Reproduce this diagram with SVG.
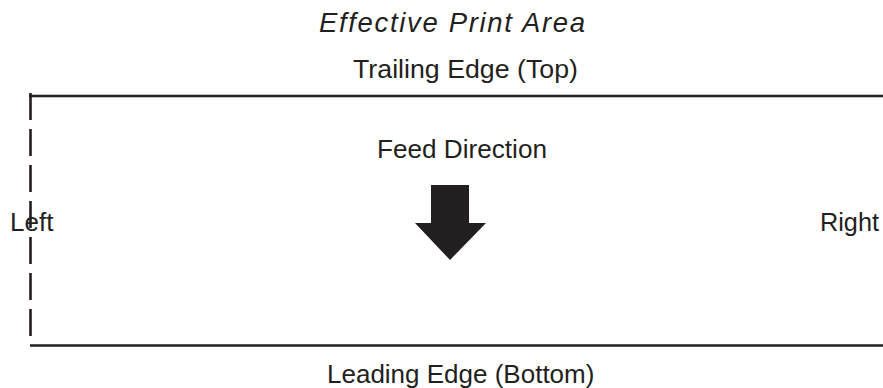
<svg xmlns="http://www.w3.org/2000/svg" width="883" height="388" viewBox="0 0 883 388">
<style>
.t{font-family:"Liberation Sans",Arial,sans-serif;font-size:26px;fill:#231f20}
.i{font-style:italic;font-size:27.5px}
.ln{stroke:#231f20;stroke-width:2.6;fill:none}
</style>
<rect width="883" height="388" fill="#ffffff"/>
<g id="title"><text class="t i" x="319" y="32" textLength="266" lengthAdjust="spacing">Effective Print Area</text></g>
<g id="edges">
<line class="ln" x1="29" y1="96" x2="883" y2="96"/>
<line class="ln" x1="30.5" y1="93" x2="30.5" y2="336" stroke-dasharray="27 9"/>
<line class="ln" x1="30" y1="345.5" x2="883" y2="345.5"/>
</g>
<g id="trailing"><text class="t" x="353" y="78" textLength="225" lengthAdjust="spacingAndGlyphs">Trailing Edge (Top)</text></g>
<g id="feed">
<text class="t" x="377" y="158" textLength="170" lengthAdjust="spacingAndGlyphs">Feed Direction</text>
<polygon points="431,185 469,185 469,223 486,223 450,260 415,223 431,223" fill="#231f20"/>
</g>
<g id="left"><text class="t" x="10" y="231">Left</text></g>
<g id="right"><text class="t" x="820" y="231" textLength="59" lengthAdjust="spacingAndGlyphs">Right</text></g>
<g id="leading"><text class="t" x="327" y="383">Leading Edge (Bottom)</text></g>
</svg>
